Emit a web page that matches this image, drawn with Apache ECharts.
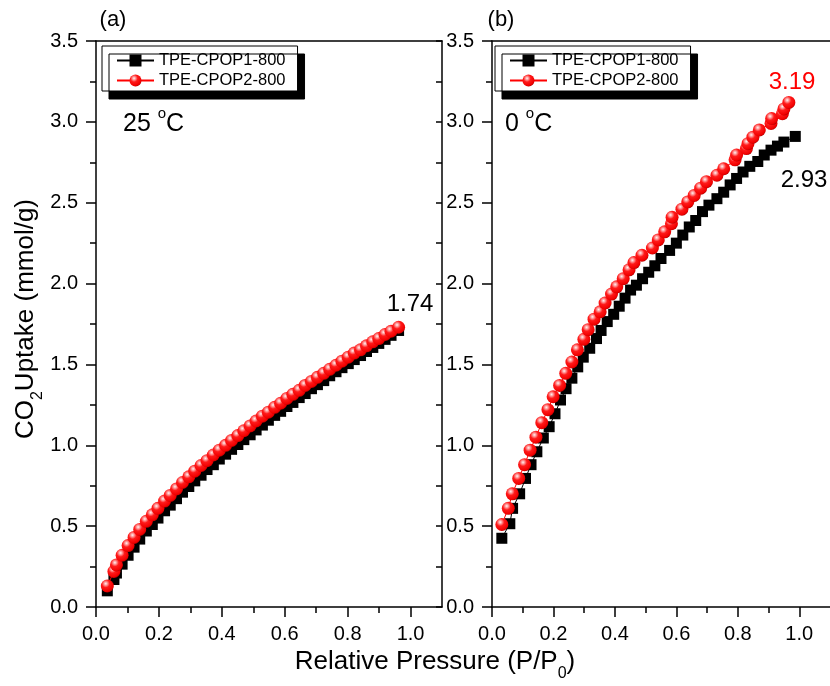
<!DOCTYPE html>
<html>
<head>
<meta charset="utf-8">
<script src="https://cdn.jsdelivr.net/npm/echarts@6/dist/echarts.min.js"></script>
<style>
  html, body { margin: 0; padding: 0; background: #fff; }
  #chart { width: 830px; height: 686px; }
</style>
</head>
<body>
<div id="chart"></div>
<script>
const FONT = '"Liberation Sans", Arial, Helvetica, sans-serif';

const name1 = 'TPE-CPOP1-800';
const name2 = 'TPE-CPOP2-800';

// (a) 25 °C
const leftPressure = [0.036, 0.057, 0.065, 0.083, 0.102, 0.121, 0.139, 0.160, 0.179, 0.197,
  0.218, 0.236, 0.256, 0.275, 0.295, 0.314, 0.334, 0.353, 0.373, 0.392,
  0.412, 0.431, 0.451, 0.470, 0.490, 0.509, 0.529, 0.548, 0.568, 0.587,
  0.607, 0.626, 0.646, 0.665, 0.685, 0.704, 0.724, 0.743, 0.763, 0.782,
  0.802, 0.821, 0.841, 0.860, 0.880, 0.899, 0.919, 0.938, 0.962];
const leftUptake1 = [0.10, 0.17, 0.21, 0.265, 0.32, 0.37, 0.42, 0.47, 0.51, 0.55,
  0.595, 0.63, 0.67, 0.71, 0.745, 0.78, 0.815, 0.85, 0.88, 0.915,
  0.945, 0.975, 1.005, 1.035, 1.065, 1.095, 1.125, 1.155, 1.185, 1.21,
  1.24, 1.265, 1.295, 1.32, 1.35, 1.375, 1.40, 1.43, 1.455, 1.48,
  1.505, 1.53, 1.555, 1.58, 1.605, 1.63, 1.655, 1.68, 1.71];
const leftUptake2 = [0.13, 0.22, 0.26, 0.32, 0.38, 0.43, 0.48, 0.53, 0.57, 0.61,
  0.655, 0.69, 0.73, 0.77, 0.805, 0.84, 0.875, 0.905, 0.94, 0.97,
  1.00, 1.03, 1.06, 1.09, 1.12, 1.15, 1.18, 1.205, 1.235, 1.26,
  1.29, 1.315, 1.34, 1.37, 1.395, 1.42, 1.445, 1.47, 1.495, 1.52,
  1.545, 1.57, 1.59, 1.615, 1.64, 1.66, 1.685, 1.705, 1.73];

// (b) 0 °C
const rightPressure1 = [0.032, 0.058, 0.067, 0.090, 0.109, 0.127, 0.146, 0.167, 0.186, 0.205,
  0.223, 0.241, 0.260, 0.279, 0.297, 0.318, 0.340, 0.355, 0.375, 0.396,
  0.414, 0.433, 0.451, 0.470, 0.490, 0.510, 0.530, 0.550, 0.578, 0.600,
  0.621, 0.642, 0.663, 0.685, 0.706, 0.732, 0.754, 0.775, 0.796, 0.817,
  0.839, 0.865, 0.886, 0.908, 0.929, 0.950, 0.987];
const rightUptake1 = [0.425, 0.515, 0.61, 0.70, 0.795, 0.88, 0.96, 1.045, 1.115, 1.195,
  1.28, 1.35, 1.415, 1.485, 1.545, 1.60, 1.66, 1.71, 1.765, 1.81,
  1.86, 1.91, 1.96, 1.99, 2.03, 2.07, 2.11, 2.155, 2.205, 2.25,
  2.30, 2.35, 2.39, 2.445, 2.485, 2.525, 2.565, 2.61, 2.65, 2.69,
  2.725, 2.755, 2.795, 2.825, 2.85, 2.875, 2.91];
const rightPressure2 = [0.032, 0.053, 0.066, 0.087, 0.106, 0.124, 0.143, 0.162, 0.182, 0.199,
  0.220, 0.240, 0.260, 0.278, 0.299, 0.313, 0.332, 0.352, 0.368, 0.389,
  0.406, 0.427, 0.446, 0.462, 0.488, 0.522, 0.541, 0.562, 0.584, 0.586,
  0.618, 0.637, 0.658, 0.679, 0.698, 0.732, 0.754, 0.791, 0.796, 0.828,
  0.833, 0.849, 0.870, 0.908, 0.910, 0.945, 0.950, 0.966];
const rightUptake2 = [0.51, 0.61, 0.70, 0.795, 0.88, 0.97, 1.05, 1.14, 1.22, 1.30,
  1.37, 1.445, 1.515, 1.59, 1.655, 1.715, 1.78, 1.825, 1.88, 1.935,
  1.98, 2.03, 2.085, 2.13, 2.175, 2.22, 2.27, 2.32, 2.37, 2.41,
  2.46, 2.505, 2.545, 2.59, 2.63, 2.67, 2.71, 2.765, 2.795, 2.835,
  2.865, 2.905, 2.95, 2.99, 3.02, 3.05, 3.08, 3.12];

const xMajorTicks = [0, 0.2, 0.4, 0.6, 0.8, 1.0];
const xMinorTicks = [0.1, 0.3, 0.5, 0.7, 0.9];

const chart = echarts.init(document.getElementById('chart'));

// red "ball" symbol
const sphere = new echarts.graphic.RadialGradient(0.38, 0.32, 0.72, [
  { offset: 0, color: '#fff2f2' },
  { offset: 0.18, color: '#ff9a9a' },
  { offset: 0.42, color: '#ff1a1a' },
  { offset: 0.85, color: '#f00000' },
  { offset: 1, color: '#a80000' }
]);

const axisLine = { show: true, onZero: false, lineStyle: { color: '#000', width: 1.5 } };
const tickLine = { color: '#000', width: 1.5 };
const labelStyle = { color: '#000', fontSize: 20, fontFamily: FONT };

function majorX(grid) {
  return {
    gridIndex: grid, type: 'value', min: 0, max: 1.1, position: 'bottom',
    axisLine: axisLine,
    axisTick: { show: true, customValues: xMajorTicks, length: 10, lineStyle: tickLine },
    axisLabel: Object.assign({ customValues: xMajorTicks, margin: 17, formatter: v => v.toFixed(1) }, labelStyle),
    splitLine: { show: false }
  };
}
function minorX(grid) {
  return {
    gridIndex: grid, type: 'value', min: 0, max: 1.1, position: 'bottom',
    axisLine: { show: false },
    axisTick: { show: true, customValues: xMinorTicks, length: 6, lineStyle: tickLine },
    axisLabel: { show: false },
    splitLine: { show: false }
  };
}
function topX(grid) {
  return {
    gridIndex: grid, type: 'value', min: 0, max: 1.1, position: 'top',
    axisLine: axisLine, axisTick: { show: false }, axisLabel: { show: false },
    splitLine: { show: false }
  };
}
function leftY(grid) {
  return {
    gridIndex: grid, type: 'value', min: 0, max: 3.5, interval: 0.5, position: 'left',
    axisLine: axisLine,
    axisTick: { show: true, length: 10, lineStyle: tickLine },
    minorTick: { show: true, splitNumber: 2, length: 6, lineStyle: tickLine },
    axisLabel: Object.assign({ margin: 18, formatter: v => v.toFixed(1) }, labelStyle),
    splitLine: { show: false }, minorSplitLine: { show: false }
  };
}
function rightY(grid) {
  return {
    gridIndex: grid, type: 'value', min: 0, max: 3.5, interval: 0.25, position: 'right',
    axisLine: axisLine,
    axisTick: { show: true, inside: true, length: 6, lineStyle: tickLine },
    axisLabel: { show: false },
    splitLine: { show: false }
  };
}

function pairs(xs, ys) {
  return xs.map((x, i) => [x, ys[i]]);
}

function squareSeries(xIdx, yIdx, data) {
  return {
    type: 'line', name: name1, xAxisIndex: xIdx, yAxisIndex: yIdx, data: data,
    symbol: 'rect', symbolSize: 11, showSymbol: true,
    itemStyle: { color: '#000' },
    lineStyle: { color: '#000', width: 1 },
    emphasis: { disabled: true }, z: 2
  };
}
function ballSeries(xIdx, yIdx, data) {
  return {
    type: 'line', name: name2, xAxisIndex: xIdx, yAxisIndex: yIdx, data: data,
    symbol: 'circle', symbolSize: 13, showSymbol: true,
    itemStyle: { color: sphere, borderWidth: 0 },
    lineStyle: { color: '#ff0000', width: 1 },
    emphasis: { disabled: true }, z: 3
  };
}

function legendBox(left) {
  return {
    data: [name1, name2], orient: 'vertical', left: left, top: 46,
    itemWidth: 37, itemHeight: 15, itemGap: 3,
    padding: [6, 12, 2, 14],
    backgroundColor: '#fff', borderColor: '#000', borderWidth: 1,
    shadowColor: '#000', shadowBlur: 0, shadowOffsetX: 7, shadowOffsetY: 8,
    selectedMode: false,
    textStyle: { color: '#000', fontSize: 16.5, fontFamily: FONT }
  };
}

function label(x, y, text, size, color) {
  return {
    type: 'text', x: x, y: y,
    style: { text: text, fontSize: size, fontFamily: FONT, fill: color, align: 'center', verticalAlign: 'middle' }
  };
}

const titleRich = {
  t: { fontSize: 26, fontFamily: FONT, color: '#000', lineHeight: 40 },
  s: { fontSize: 16, fontFamily: FONT, color: '#000', lineHeight: 12, verticalAlign: 'bottom' }
};
const degRich = {
  n: { fontSize: 25, fontFamily: FONT, color: '#000', lineHeight: 36 },
  o: { fontSize: 15, fontFamily: FONT, color: '#000', lineHeight: 10, verticalAlign: 'top' }
};

const option = {
  animation: false,
  backgroundColor: '#fff',
  grid: [
    { left: 96, top: 41, width: 346, height: 566 },
    { left: 492, top: 41, width: 346, height: 566 }
  ],
  xAxis: [majorX(0), minorX(0), topX(0), majorX(1), minorX(1), topX(1)],
  yAxis: [leftY(0), rightY(0), leftY(1)],
  legend: [legendBox(102), legendBox(495)],
  series: [
    squareSeries(0, 0, pairs(leftPressure, leftUptake1)),
    ballSeries(0, 0, pairs(leftPressure, leftUptake2)),
    squareSeries(3, 2, pairs(rightPressure1, rightUptake1)),
    ballSeries(3, 2, pairs(rightPressure2, rightUptake2))
  ],
  graphic: [
    label(113, 20, '(a)', 22, '#000'),
    label(501, 20, '(b)', 22, '#000'),
    label(410, 304, '1.74', 24, '#000'),
    label(792, 82, '3.19', 24, '#ff0000'),
    label(804, 180, '2.93', 24, '#000'),
    { type: 'text', x: 123, y: 124, style: { text: '{n|25 }{o|o}{n|C}', rich: degRich, align: 'left', verticalAlign: 'middle', fill: '#000' } },
    { type: 'text', x: 505, y: 124, style: { text: '{n|0 }{o|o}{n|C}', rich: degRich, align: 'left', verticalAlign: 'middle', fill: '#000' } },
    { type: 'text', x: 435, y: 662, style: { text: '{t|Relative Pressure (P/P}{s|0}{t|)}', rich: titleRich, align: 'center', verticalAlign: 'middle', fill: '#000' } },
    { type: 'text', x: 26, y: 319, rotation: Math.PI / 2, style: { text: '{t|CO}{s|2}{t|Uptake (mmol/g)}', rich: titleRich, align: 'center', verticalAlign: 'middle', fill: '#000' } }
  ]
};

chart.setOption(option);
</script>
</body>
</html>
